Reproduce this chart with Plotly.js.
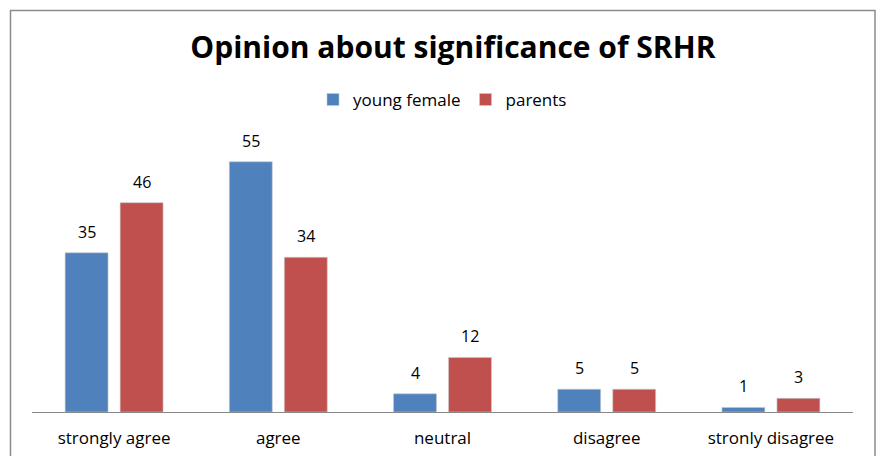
<!DOCTYPE html>
<html>
<head>
<meta charset="utf-8">
<script src="https://cdn.plot.ly/plotly-3.0.1.min.js"></script>
<style>html,body{margin:0;padding:0;background:#fff;}#chart{width:876px;height:456px;}</style>
</head>
<body>
<div id="chart"></div>
<script>
const categories = ["strongly agree", "agree", "neutral", "disagree", "stronly disagree"];
const youngFemale = [35, 55, 4, 5, 1];
const parents = [46, 34, 12, 5, 3];
const seriesNames = ["young female", "parents"];
const colors = ["#4F81BD", "#C0504D"];

const FONT = "Open Sans, sans-serif";
const traces = [youngFemale, parents].map((vals, i) => ({
  type: "bar",
  name: seriesNames[i],
  x: categories,
  y: vals,
  marker: {color: colors[i], line: {color: "rgba(200,200,200,0.6)", width: 1}},
  hoverinfo: "x+y"
}));

const annotations = [];
[youngFemale, parents].forEach((vals, i) => {
  vals.forEach((v, j) => {
    annotations.push({
      x: categories[j], y: v, xref: "x", yref: "y",
      text: String(v), showarrow: false,
      xshift: i === 0 ? -27.5 : 27.5, yshift: 8, yanchor: "bottom",
      font: {family: FONT, size: 16, color: "#000"}
    });
  });
});

const layout = {
  width: 876, height: 456,
  margin: {l: 32, r: 23, t: 139, b: 44},
  paper_bgcolor: "#fff", plot_bgcolor: "#fff",
  title: {text: "<b>Opinion about significance of SRHR</b>", x: 0.517, xanchor: "center", y: 0.895, yanchor: "middle", yref: "container",
          font: {family: FONT, size: 30, color: "#000"}},
  showlegend: true,
  legend: {orientation: "h", x: 0.5, xanchor: "center", y: 1.143, yanchor: "middle",
           font: {family: FONT, size: 17, color: "#000"}, itemwidth: 30},
  bargap: 0.33, bargroupgap: 0.22, barmode: "group",
  xaxis: {type: "category", showline: true, linecolor: "#888", linewidth: 1, ticks: "", showgrid: false,
          ticklabelstandoff: 11,
          tickfont: {family: FONT, size: 17, color: "#000"}, fixedrange: true},
  yaxis: {range: [0, 60], visible: false, showgrid: false, zeroline: false, fixedrange: true},
  annotations: annotations,
  shapes: [{type: "rect", xref: "paper", yref: "paper",
            x0: (10.5 - 32) / 821, x1: (875 - 32) / 821, y0: -0.3, y1: (412 - 10.5) / 273,
            line: {color: "#8c8c8c", width: 1.5}, fillcolor: "rgba(0,0,0,0)", layer: "below"}]
};

Plotly.newPlot("chart", traces, layout, {displayModeBar: false, staticPlot: true});
</script>
</body>
</html>
